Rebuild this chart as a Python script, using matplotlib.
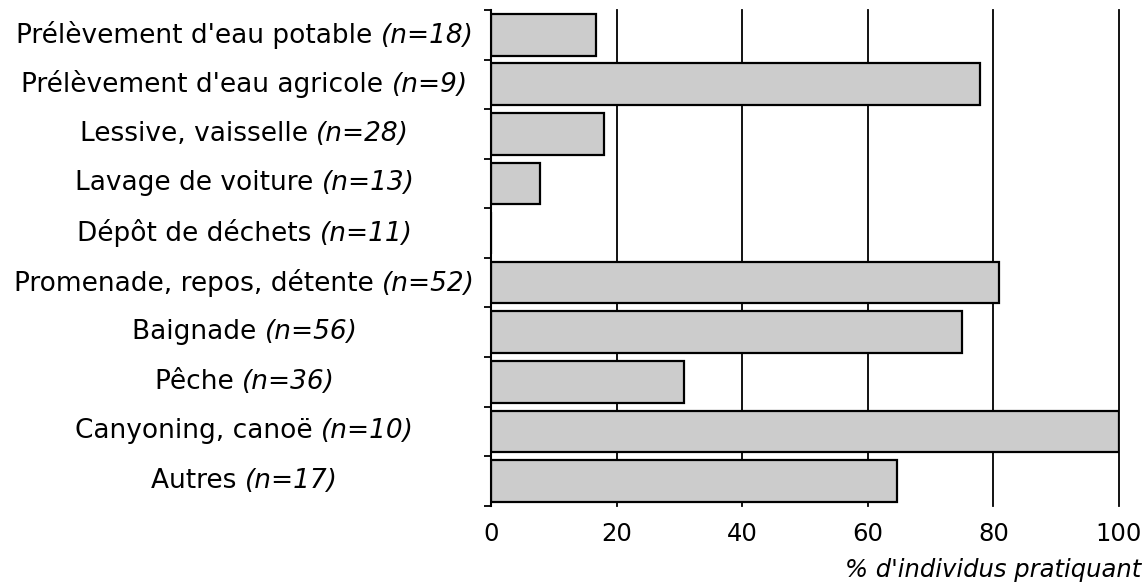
import matplotlib.pyplot as plt
import numpy as np
from matplotlib.offsetbox import TextArea, HPacker, AnnotationBbox

# data
activites = ["Prélèvement d'eau potable", "Prélèvement d'eau agricole", "Lessive, vaisselle",
             "Lavage de voiture", "Dépôt de déchets", "Promenade, repos, détente",
             "Baignade", "Pêche", "Canyoning, canoë", "Autres"]
effectifs = [18, 9, 28, 13, 11, 52, 56, 36, 10, 17]
pourcentages = [16.7, 77.8, 17.9, 7.7, 0, 80.8, 75.0, 30.6, 100, 64.7]

plt.rcParams['font.family'] = 'DejaVu Sans'
fig = plt.figure(figsize=(11.43, 5.84), dpi=100)
ax = fig.add_axes([0.430, 0.134, 0.549, 0.849])

y = np.arange(len(activites))
ax.barh(y, pourcentages, height=0.84, color="#cccccc", edgecolor="black", linewidth=1.6)
ax.set_ylim(len(activites) - 0.5, -0.5)
ax.set_xlim(0, 100)
ax.set_axisbelow(True)

#gridlines
ax.set_xticks([0, 20, 40, 60, 80, 100])
ax.xaxis.grid(True, color="black", linewidth=1.3)
for gl in ax.get_xgridlines():
    gl.set_clip_on(False)
ax.tick_params(axis="x", length=0, pad=12, labelsize=17.5)

#y axis : ticks between categories only
ax.set_yticks([])
ax.set_yticks(np.arange(len(activites) + 1) - 0.5, minor=True)
ax.tick_params(axis="y", which="minor", length=5, width=1.3, direction="out")
for s in ["top", "right", "bottom"]:
    ax.spines[s].set_visible(False)
ax.spines["left"].set_linewidth(1.5)

#labels centered, with italic n
for i, (nom, n) in enumerate(zip(activites, effectifs)):
    normal = TextArea(nom + " ", textprops=dict(fontsize=19))
    italique = TextArea("(n=%d)" % n, textprops=dict(fontsize=19, fontstyle="italic"))
    box = HPacker(children=[normal, italique], sep=0, pad=0, align="baseline")
    ab = AnnotationBbox(box, (0.214, i), xycoords=("figure fraction", "data"),
                        box_alignment=(0.5, 0.5), frameon=False, annotation_clip=False)
    ax.add_artist(ab)

ax.set_xlabel("% d'individus pratiquant", fontsize=17.5, fontstyle="italic", labelpad=2)
ax.xaxis.set_label_coords(1.035, -0.105)
ax.xaxis.label.set_ha("right")

plt.savefig("out.png", dpi=100)
